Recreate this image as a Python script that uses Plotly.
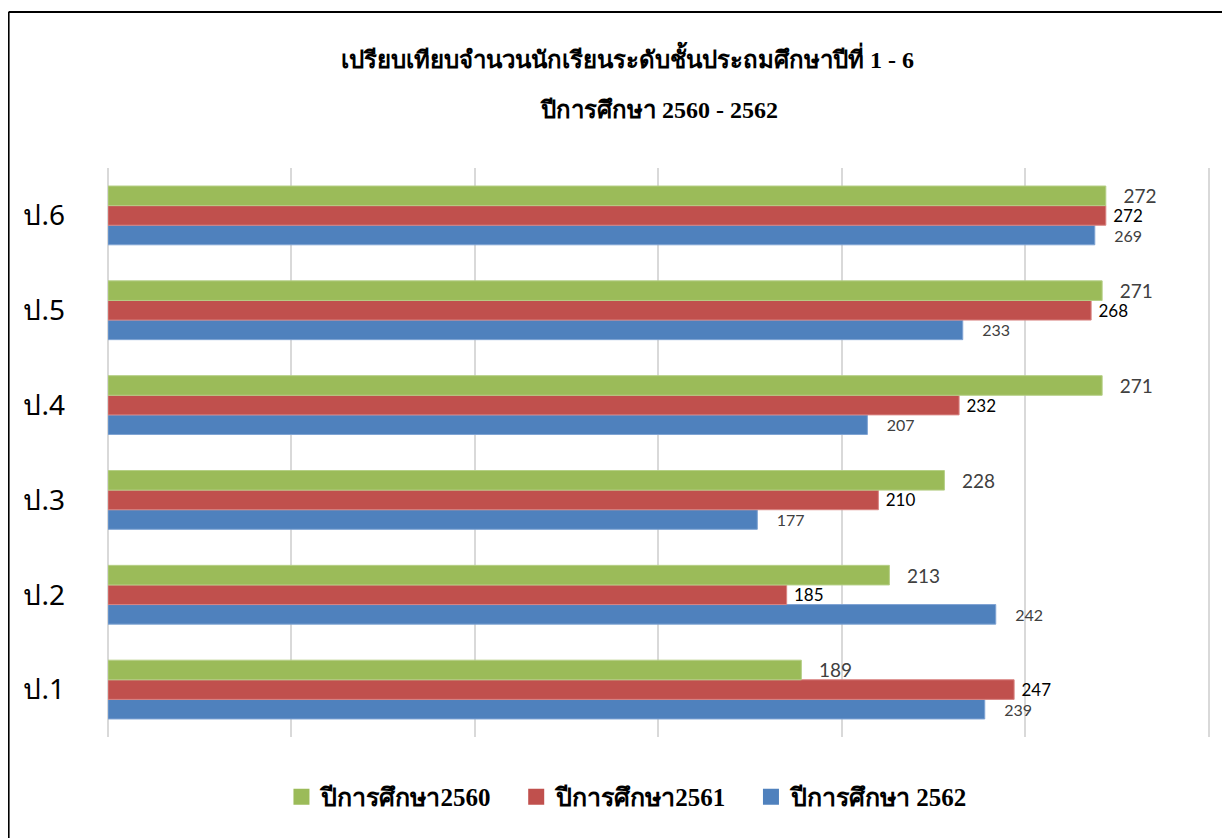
import plotly.graph_objects as go

# grades, bottom to top
grades = ["ป.1", "ป.2", "ป.3", "ป.4", "ป.5", "ป.6"]
y2560 = [189, 213, 228, 271, 271, 272]
y2561 = [247, 185, 210, 232, 268, 272]
y2562 = [239, 242, 177, 207, 233, 269]

names = ["ปีการศึกษา2560", "ปีการศึกษา2561", "ปีการศึกษา 2562"]
colors = ["#9BBB59", "#C0504D", "#4F81BD"]
edges = ["#B5CF86", "#D98482", "#7FA3D3"]
label_size = [19, 17, 16]
label_color = ["#404040", "#000000", "#404040"]
pad = ["   ", " ", "    "]
series = [y2560, y2561, y2562]

fig = go.Figure()
# plotly puts the first trace at the bottom of each group, so go blue -> red -> green
for i in [2, 1, 0]:
    fig.add_trace(go.Bar(y=grades, x=series[i], name=names[i], orientation="h",
                         marker=dict(color=colors[i], line=dict(color=edges[i], width=1)),
                         texttemplate=pad[i] + "%{x}", textposition="outside", constraintext="none",
                         textfont=dict(family="Lato, Liberation Sans", size=label_size[i], color=label_color[i]),
                         showlegend=False, cliponaxis=False))

# legend entries with big square swatches
for i in range(3):
    fig.add_trace(go.Scatter(x=[None], y=[None], mode="markers",
                             name=names[i] + "\u00a0\u00a0\u00a0",
                             marker=dict(symbol="square", size=20, color=colors[i])))

serif = "Liberation Serif, Times New Roman, serif"

fig.update_layout(
    width=1222, height=830,
    paper_bgcolor="white", plot_bgcolor="white",
    margin=dict(l=100, r=20, t=160, b=101),
    barmode="group", bargap=0.38, bargroupgap=0,
    title=dict(
        text="เปรียบเทียบจำนวนนักเรียนระดับชั้นประถมศึกษาปีที่ 1 - 6",
        x=0.507, xanchor="center", y=0.948, yanchor="top",
        font=dict(family=serif, size=24, color="black", weight="bold"),
    ),
    annotations=[dict(text="ปีการศึกษา 2560 - 2562", xref="paper", yref="paper",
                      x=0.5, y=1.0, yshift=58, xanchor="center", yanchor="middle", showarrow=False,
                      font=dict(family=serif, size=24, color="black", weight="bold"))],
    xaxis=dict(range=[0, 300.4], dtick=50, showticklabels=False, showgrid=True,
               gridcolor="#D9D9D9", gridwidth=2, zeroline=True, zerolinecolor="#D9D9D9",
               zerolinewidth=2, showline=False, fixedrange=True),
    yaxis=dict(showgrid=False, zeroline=False, showline=False, ticks="",
               ticklabelstandoff=42,
               tickfont=dict(family="Noto Sans, Tahoma, sans-serif", size=28, color="black")),
    legend=dict(orientation="h", x=0.48, xanchor="center", y=-0.065, yanchor="top",
                traceorder="normal",
                font=dict(family=serif, size=25, color="black", weight="bold"),
                itemwidth=30),
    shapes=[
        dict(type="line", xref="paper", yref="paper", x0=-0.0902, x1=1.02, y0=1.2741, y1=1.2741,
             line=dict(color="black", width=2)),
        dict(type="line", xref="paper", yref="paper", x0=-0.0902, x1=-0.0902, y0=1.2741, y1=-0.2,
             line=dict(color="black", width=2)),
    ],
)

fig.write_html("out.html")
